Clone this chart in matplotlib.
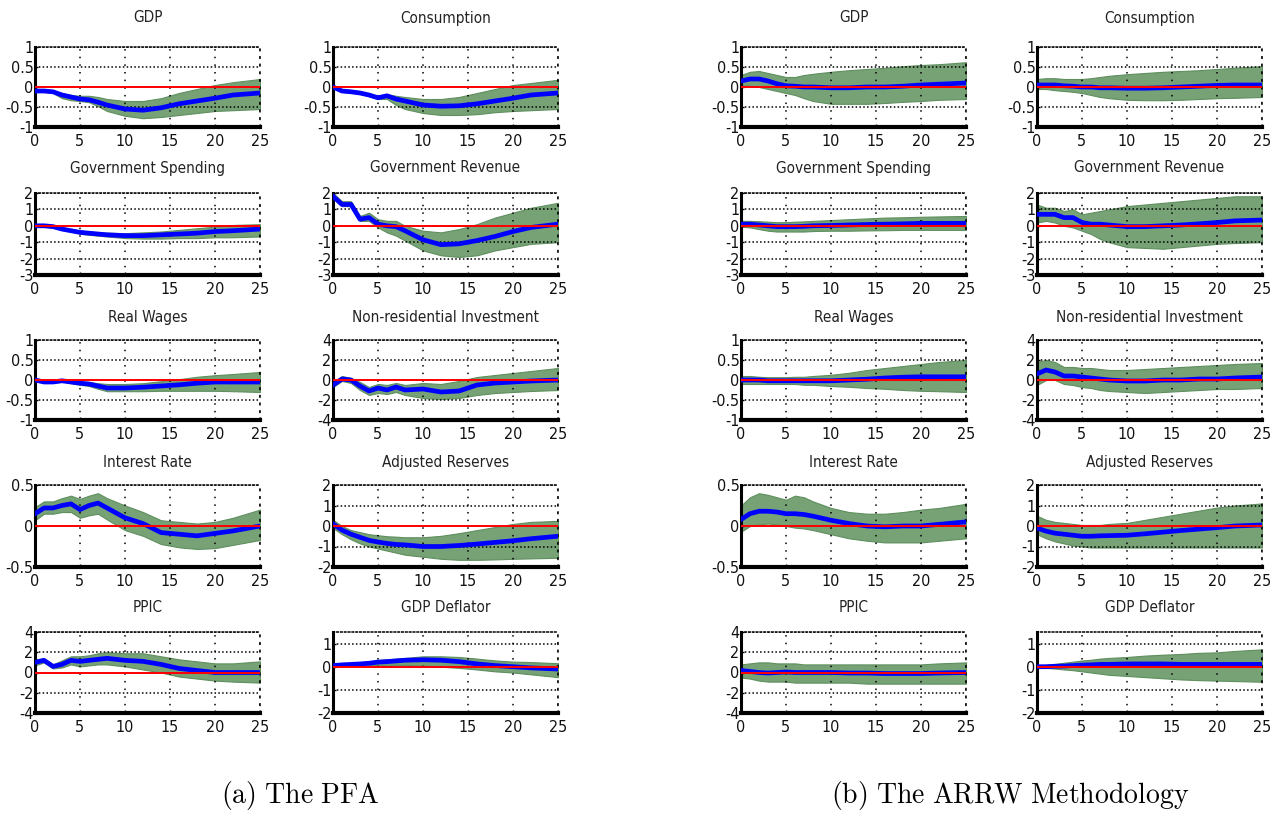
import matplotlib
matplotlib.use("Agg")
import matplotlib.pyplot as plt
from matplotlib import font_manager
from matplotlib.font_manager import FontProperties
import numpy as np

# prefer a narrow sans face like the original (MATLAB Helvetica squeezed)
narrow = [f for f in font_manager.fontManager.ttflist
          if f.name in ('Liberation Sans Narrow', 'DejaVu Sans')
          and ('ondensed' in f.fname or 'Narrow' in f.fname)
          and f.style == 'normal' and f.weight in (400, 'normal')]
if narrow:
    title_fp = FontProperties(fname=narrow[0].fname, size=11)
    tick_fp = FontProperties(fname=narrow[0].fname, size=11.5)
else:
    title_fp = FontProperties(family=['Liberation Sans', 'DejaVu Sans'], size=10.5)
    tick_fp = FontProperties(family=['Liberation Sans', 'DejaVu Sans'], size=11)
plt.rcParams['mathtext.fontset'] = 'cm'

hz = [0, 1, 2, 3, 4, 5, 6, 7, 8, 10, 12, 14, 16, 18, 20, 22, 25]

titles = ["GDP", "Consumption", "Government Spending", "Government Revenue",
          "Real Wages", "Non-residential Investment", "Interest Rate",
          "Adjusted Reserves", "PPIC", "GDP Deflator"]
ylims = [(-1, 1), (-1, 1), (-3, 2), (-3, 2), (-1, 1), (-4, 4),
         (-0.5, 0.5), (-2, 2), (-4, 4), (-2, 1.5)]
yticks = [[-1, -0.5, 0, 0.5, 1], [-1, -0.5, 0, 0.5, 1],
          [-3, -2, -1, 0, 1, 2], [-3, -2, -1, 0, 1, 2],
          [-1, -0.5, 0, 0.5, 1], [-4, -2, 0, 2, 4],
          [-0.5, 0, 0.5], [-2, -1, 0, 1, 2],
          [-4, -2, 0, 2, 4], [-2, -1, 0, 1]]
xticks = [0, 5, 10, 15, 20, 25]
captions = [r'$\mathrm{(a)\ The\ PFA}$', r'$\mathrm{(b)\ The\ ARRW\ Methodology}$']

# ---- (a) PFA : median, lower, upper ----
gdp_a_mid = [-0.1, -0.1, -0.12, -0.2, -0.25, -0.3, -0.32, -0.38, -0.45, -0.55, -0.58, -0.52, -0.42, -0.35, -0.28, -0.2, -0.15]
gdp_a_lo = [-0.1, -0.12, -0.15, -0.28, -0.33, -0.35, -0.38, -0.48, -0.6, -0.72, -0.78, -0.75, -0.7, -0.65, -0.6, -0.58, -0.55]
gdp_a_hi = [-0.08, -0.08, -0.1, -0.15, -0.2, -0.22, -0.22, -0.25, -0.3, -0.35, -0.35, -0.28, -0.15, -0.05, 0.05, 0.12, 0.2]

cons_a_mid = [0, -0.1, -0.12, -0.15, -0.2, -0.27, -0.22, -0.3, -0.35, -0.45, -0.48, -0.47, -0.42, -0.35, -0.28, -0.2, -0.15]
cons_a_lo = [0, -0.12, -0.14, -0.17, -0.23, -0.3, -0.3, -0.45, -0.55, -0.65, -0.7, -0.7, -0.68, -0.63, -0.6, -0.58, -0.55]
cons_a_hi = [0, -0.08, -0.1, -0.13, -0.17, -0.23, -0.18, -0.22, -0.25, -0.3, -0.3, -0.25, -0.15, -0.05, 0.05, 0.1, 0.18]

gsp_a_mid = [0, 0, -0.05, -0.2, -0.3, -0.4, -0.45, -0.5, -0.55, -0.6, -0.6, -0.55, -0.5, -0.45, -0.35, -0.3, -0.2]
gsp_a_lo = [0, -0.05, -0.1, -0.25, -0.35, -0.48, -0.55, -0.6, -0.65, -0.75, -0.78, -0.78, -0.75, -0.75, -0.7, -0.7, -0.65]
gsp_a_hi = [0.05, 0.05, 0, -0.1, -0.2, -0.3, -0.35, -0.4, -0.42, -0.45, -0.4, -0.35, -0.25, -0.15, -0.05, 0.05, 0.1]

grev_a_mid = [1.8, 1.3, 1.3, 0.4, 0.5, 0.1, 0, -0.05, -0.3, -0.85, -1.15, -1.1, -0.9, -0.65, -0.35, -0.1, 0.1]
grev_a_lo = [1.7, 1.2, 1.2, 0.3, 0.3, -0.1, -0.4, -0.6, -0.9, -1.5, -1.8, -1.9, -1.8, -1.5, -1.3, -1.1, -1.0]
grev_a_hi = [2.0, 1.5, 1.5, 0.6, 0.8, 0.4, 0.3, 0.3, 0, -0.3, -0.4, -0.2, 0.1, 0.5, 0.8, 1.1, 1.4]

rw_a_mid = [0, -0.05, -0.05, -0.02, -0.05, -0.08, -0.1, -0.15, -0.2, -0.2, -0.18, -0.15, -0.12, -0.08, -0.05, -0.05, -0.05]
rw_a_lo = [-0.02, -0.07, -0.07, -0.04, -0.08, -0.12, -0.15, -0.22, -0.28, -0.28, -0.28, -0.27, -0.27, -0.27, -0.27, -0.28, -0.3]
rw_a_hi = [0.02, -0.03, -0.03, 0, -0.02, -0.04, -0.05, -0.08, -0.1, -0.1, -0.08, -0.03, 0.02, 0.08, 0.12, 0.15, 0.2]

nri_a_mid = [-0.5, 0.1, 0, -0.6, -1.1, -0.8, -1.0, -0.7, -1.0, -0.9, -1.2, -1.1, -0.5, -0.3, -0.2, -0.1, 0]
nri_a_lo = [-0.7, -0.1, -0.3, -1.0, -1.5, -1.3, -1.4, -1.2, -1.5, -1.8, -1.9, -1.8, -1.5, -1.3, -1.2, -1.1, -1.0]
nri_a_hi = [-0.2, 0.4, 0.2, -0.2, -0.7, -0.4, -0.5, -0.3, -0.5, -0.3, -0.4, -0.1, 0.3, 0.5, 0.7, 0.9, 1.2]

ir_a_mid = [0.15, 0.22, 0.22, 0.25, 0.27, 0.2, 0.25, 0.28, 0.22, 0.1, 0.03, -0.08, -0.1, -0.12, -0.09, -0.06, 0]
ir_a_lo = [0.07, 0.15, 0.15, 0.17, 0.17, 0.1, 0.13, 0.15, 0.08, -0.05, -0.12, -0.22, -0.26, -0.28, -0.27, -0.23, -0.17]
ir_a_hi = [0.23, 0.3, 0.3, 0.34, 0.37, 0.33, 0.37, 0.4, 0.34, 0.25, 0.17, 0.07, 0.05, 0.03, 0.05, 0.1, 0.2]

ar_a_mid = [0.1, -0.2, -0.4, -0.55, -0.7, -0.78, -0.85, -0.9, -0.92, -1.0, -1.0, -0.95, -0.88, -0.8, -0.72, -0.62, -0.5]
ar_a_lo = [-0.1, -0.4, -0.65, -0.85, -1.0, -1.1, -1.2, -1.3, -1.4, -1.5, -1.6, -1.65, -1.65, -1.63, -1.6, -1.58, -1.55]
ar_a_hi = [0.3, 0.0, -0.2, -0.3, -0.4, -0.45, -0.5, -0.52, -0.55, -0.55, -0.48, -0.35, -0.2, -0.05, 0.1, 0.2, 0.25]

ppic_a_mid = [1.0, 1.2, 0.6, 0.8, 1.2, 1.1, 1.2, 1.3, 1.4, 1.2, 1.1, 0.8, 0.4, 0.2, 0, 0, 0]
ppic_a_lo = [0.7, 1.0, 0.4, 0.5, 0.8, 0.6, 0.7, 0.8, 0.8, 0.6, 0.3, 0, -0.4, -0.6, -0.8, -0.9, -1.0]
ppic_a_hi = [1.3, 1.4, 0.8, 1.2, 1.6, 1.6, 1.7, 1.9, 2.0, 1.9, 1.9, 1.6, 1.3, 1.1, 0.9, 0.9, 1.1]

defl_a_mid = [0.05, 0.08, 0.1, 0.12, 0.15, 0.2, 0.22, 0.25, 0.28, 0.3, 0.28, 0.22, 0.12, 0.05, 0, -0.05, -0.1]
defl_a_lo = [0.02, 0.05, 0.05, 0.06, 0.07, 0.08, 0.08, 0.08, 0.08, 0.05, 0, -0.05, -0.12, -0.2, -0.25, -0.33, -0.45]
defl_a_hi = [0.08, 0.1, 0.15, 0.18, 0.22, 0.28, 0.32, 0.35, 0.38, 0.45, 0.45, 0.42, 0.35, 0.27, 0.22, 0.2, 0.15]

# ---- (b) ARRW : median, lower, upper ----
gdp_b_mid = [0.15, 0.2, 0.2, 0.15, 0.08, 0.03, 0.02, 0, 0, -0.02, -0.02, 0, 0, 0.02, 0.05, 0.07, 0.1]
gdp_b_lo = [0.05, 0.03, 0, -0.05, -0.1, -0.15, -0.2, -0.28, -0.35, -0.42, -0.42, -0.42, -0.4, -0.37, -0.35, -0.32, -0.3]
gdp_b_hi = [0.3, 0.38, 0.4, 0.35, 0.3, 0.25, 0.25, 0.3, 0.33, 0.38, 0.42, 0.45, 0.48, 0.52, 0.55, 0.57, 0.62]

cons_b_mid = [0.05, 0.05, 0.05, 0.03, 0.02, 0, 0, -0.02, -0.02, -0.03, -0.03, -0.02, 0, 0.02, 0.04, 0.05, 0.05]
cons_b_lo = [-0.05, -0.05, -0.08, -0.1, -0.12, -0.15, -0.2, -0.25, -0.28, -0.32, -0.33, -0.33, -0.32, -0.3, -0.28, -0.27, -0.25]
cons_b_hi = [0.2, 0.22, 0.22, 0.2, 0.2, 0.2, 0.22, 0.25, 0.28, 0.32, 0.35, 0.38, 0.4, 0.42, 0.45, 0.48, 0.52]

gsp_b_mid = [0.1, 0.1, 0.05, 0, -0.05, -0.05, -0.05, -0.03, 0, 0.02, 0.05, 0.08, 0.1, 0.12, 0.15, 0.15, 0.15]
gsp_b_lo = [-0.05, -0.1, -0.2, -0.3, -0.35, -0.35, -0.35, -0.35, -0.32, -0.3, -0.3, -0.28, -0.27, -0.25, -0.25, -0.25, -0.25]
gsp_b_hi = [0.3, 0.3, 0.28, 0.25, 0.22, 0.22, 0.25, 0.27, 0.3, 0.35, 0.4, 0.45, 0.5, 0.52, 0.55, 0.57, 0.6]

grev_b_mid = [0.7, 0.7, 0.7, 0.5, 0.5, 0.2, 0.1, 0.1, 0.05, -0.05, -0.05, 0, 0.05, 0.12, 0.2, 0.3, 0.35]
grev_b_lo = [0.2, 0.3, 0.2, 0, -0.1, -0.3, -0.5, -0.8, -1.0, -1.3, -1.35, -1.4, -1.3, -1.2, -1.1, -1.05, -1.0]
grev_b_hi = [1.3, 1.1, 1.1, 0.9, 1.0, 0.7, 0.8, 0.9, 1.0, 1.2, 1.3, 1.4, 1.5, 1.6, 1.7, 1.8, 1.8]

rw_b_mid = [0, 0, 0, -0.02, -0.02, -0.02, -0.02, -0.02, -0.02, -0.02, 0, 0.02, 0.05, 0.07, 0.08, 0.08, 0.08]
rw_b_lo = [-0.1, -0.1, -0.1, -0.1, -0.1, -0.1, -0.1, -0.12, -0.12, -0.15, -0.17, -0.2, -0.22, -0.25, -0.27, -0.28, -0.3]
rw_b_hi = [0.1, 0.1, 0.08, 0.07, 0.07, 0.07, 0.08, 0.08, 0.1, 0.13, 0.18, 0.25, 0.3, 0.35, 0.4, 0.45, 0.5]

nri_b_mid = [0.6, 1.0, 0.8, 0.4, 0.4, 0.3, 0.2, 0.1, 0, -0.1, -0.1, 0, 0, 0.1, 0.1, 0.2, 0.3]
nri_b_lo = [-0.5, 0, 0, -0.4, -0.5, -0.7, -0.8, -1.0, -1.1, -1.2, -1.3, -1.2, -1.1, -1.0, -0.9, -0.9, -0.8]
nri_b_hi = [1.8, 2.0, 1.8, 1.3, 1.3, 1.2, 1.2, 1.1, 1.0, 1.0, 1.1, 1.2, 1.3, 1.4, 1.5, 1.6, 1.7]

ir_b_mid = [0.08, 0.15, 0.18, 0.18, 0.17, 0.15, 0.15, 0.14, 0.12, 0.07, 0.03, 0, -0.01, 0, 0, 0.02, 0.05]
ir_b_lo = [-0.07, 0, 0.02, 0.03, 0.02, 0, -0.02, -0.03, -0.05, -0.1, -0.15, -0.18, -0.2, -0.2, -0.2, -0.18, -0.15]
ir_b_hi = [0.25, 0.35, 0.4, 0.38, 0.35, 0.32, 0.37, 0.35, 0.3, 0.22, 0.17, 0.15, 0.15, 0.17, 0.2, 0.22, 0.27]

ar_b_mid = [-0.1, -0.25, -0.35, -0.4, -0.45, -0.5, -0.5, -0.48, -0.47, -0.45, -0.38, -0.3, -0.22, -0.15, -0.08, 0, 0.05]
ar_b_lo = [-0.4, -0.6, -0.75, -0.85, -0.95, -1.0, -1.05, -1.05, -1.05, -1.05, -1.05, -1.05, -1.05, -1.05, -1.05, -1.05, -1.05]
ar_b_hi = [0.5, 0.3, 0.2, 0.15, 0.1, 0.05, 0.05, 0.05, 0.1, 0.15, 0.3, 0.45, 0.6, 0.75, 0.9, 1.0, 1.1]

ppic_b_mid = [0.2, 0.1, 0, -0.05, 0, 0.05, 0, 0, 0, 0, -0.05, -0.05, -0.1, -0.1, -0.1, -0.05, 0]
ppic_b_lo = [-0.5, -0.6, -0.8, -0.9, -0.9, -0.9, -1.0, -1.0, -1.0, -1.0, -1.0, -1.1, -1.1, -1.1, -1.1, -1.1, -1.1]
ppic_b_hi = [0.8, 0.9, 1.0, 1.0, 0.9, 0.9, 0.9, 0.8, 0.8, 0.8, 0.8, 0.8, 0.8, 0.8, 0.8, 0.9, 1.0]

defl_b_mid = [0, 0, 0.02, 0.03, 0.05, 0.07, 0.08, 0.1, 0.1, 0.12, 0.12, 0.12, 0.1, 0.1, 0.1, 0.1, 0.1]
defl_b_lo = [0, -0.05, -0.08, -0.12, -0.15, -0.2, -0.25, -0.3, -0.35, -0.4, -0.45, -0.5, -0.55, -0.58, -0.6, -0.62, -0.65]
defl_b_hi = [0.05, 0.08, 0.12, 0.17, 0.22, 0.27, 0.3, 0.35, 0.38, 0.42, 0.48, 0.52, 0.55, 0.6, 0.62, 0.68, 0.75]

pfa = [(gdp_a_mid, gdp_a_lo, gdp_a_hi), (cons_a_mid, cons_a_lo, cons_a_hi),
       (gsp_a_mid, gsp_a_lo, gsp_a_hi), (grev_a_mid, grev_a_lo, grev_a_hi),
       (rw_a_mid, rw_a_lo, rw_a_hi), (nri_a_mid, nri_a_lo, nri_a_hi),
       (ir_a_mid, ir_a_lo, ir_a_hi), (ar_a_mid, ar_a_lo, ar_a_hi),
       (ppic_a_mid, ppic_a_lo, ppic_a_hi), (defl_a_mid, defl_a_lo, defl_a_hi)]
arrw = [(gdp_b_mid, gdp_b_lo, gdp_b_hi), (cons_b_mid, cons_b_lo, cons_b_hi),
        (gsp_b_mid, gsp_b_lo, gsp_b_hi), (grev_b_mid, grev_b_lo, grev_b_hi),
        (rw_b_mid, rw_b_lo, rw_b_hi), (nri_b_mid, nri_b_lo, nri_b_hi),
        (ir_b_mid, ir_b_lo, ir_b_hi), (ar_b_mid, ar_b_lo, ar_b_hi),
        (ppic_b_mid, ppic_b_lo, ppic_b_hi), (defl_b_mid, defl_b_lo, defl_b_hi)]

W, H = 1270, 823
fig = plt.figure(figsize=(W / 100, H / 100), dpi=100)

# pixel layout
col_left = [[35, 333], [741, 1037]]
col_w = 225
rows = [(47, 127), (193, 275), (340, 420), (485, 567), (632, 713)]
title_y = [18, 168, 317, 462, 608]
cap_x = [300, 1010]

band_col = '#76a276'
edge_col = '#5f8f5f'

for p, data in enumerate([pfa, arrw]):
    for i, (mid, lo, hi) in enumerate(data):
        r, c = divmod(i, 2)
        x0 = col_left[p][c]
        top, bot = rows[r]
        ax = fig.add_axes([x0 / W, 1 - bot / H, col_w / W, (bot - top) / H])
        ax.fill_between(hz, lo, hi, color=band_col, edgecolor=edge_col, lw=0.8, zorder=1)
        ax.plot(hz, mid, color='#0000ff', lw=3.4, zorder=3)
        ax.axhline(0, color='#ff0000', lw=1.4, zorder=3.5)
        ax.set_xlim(0, 25)
        ax.set_ylim(*ylims[i])
        ax.set_xticks(xticks)
        ax.set_xticklabels([str(v) for v in xticks], fontproperties=tick_fp)
        ax.set_yticks(yticks[i])
        ax.set_yticklabels([('%g' % v) for v in yticks[i]], fontproperties=tick_fp)
        ax.set_axisbelow(False)
        ax.grid(axis='y', color='black', ls=(0, (1, 1.5)), lw=1.1)
        ax.grid(axis='x', color='black', ls=(0, (1, 4)), lw=1.1)
        for g in ax.get_xgridlines() + ax.get_ygridlines():
            g.set_zorder(2.5)
        ax.spines['left'].set_linewidth(2.2)
        ax.spines['bottom'].set_linewidth(3)
        ax.spines['top'].set_linestyle((0, (1, 1.5)))
        ax.spines['top'].set_linewidth(1.1)
        ax.spines['right'].set_linestyle((0, (1, 4)))
        ax.spines['right'].set_linewidth(1.1)
        ax.tick_params(direction='in', length=2, width=1, pad=1, labelcolor='#111111')
        ax.tick_params(axis='x', pad=5)
        fig.text((x0 + col_w / 2) / W, 1 - title_y[r] / H, titles[i],
                 ha='center', va='center', color='#222222', fontproperties=title_fp)
    fig.text(cap_x[p] / W, 1 - 795 / H, captions[p], ha='center', va='center',
             fontsize=20)

fig.savefig('out.png', dpi=100)
